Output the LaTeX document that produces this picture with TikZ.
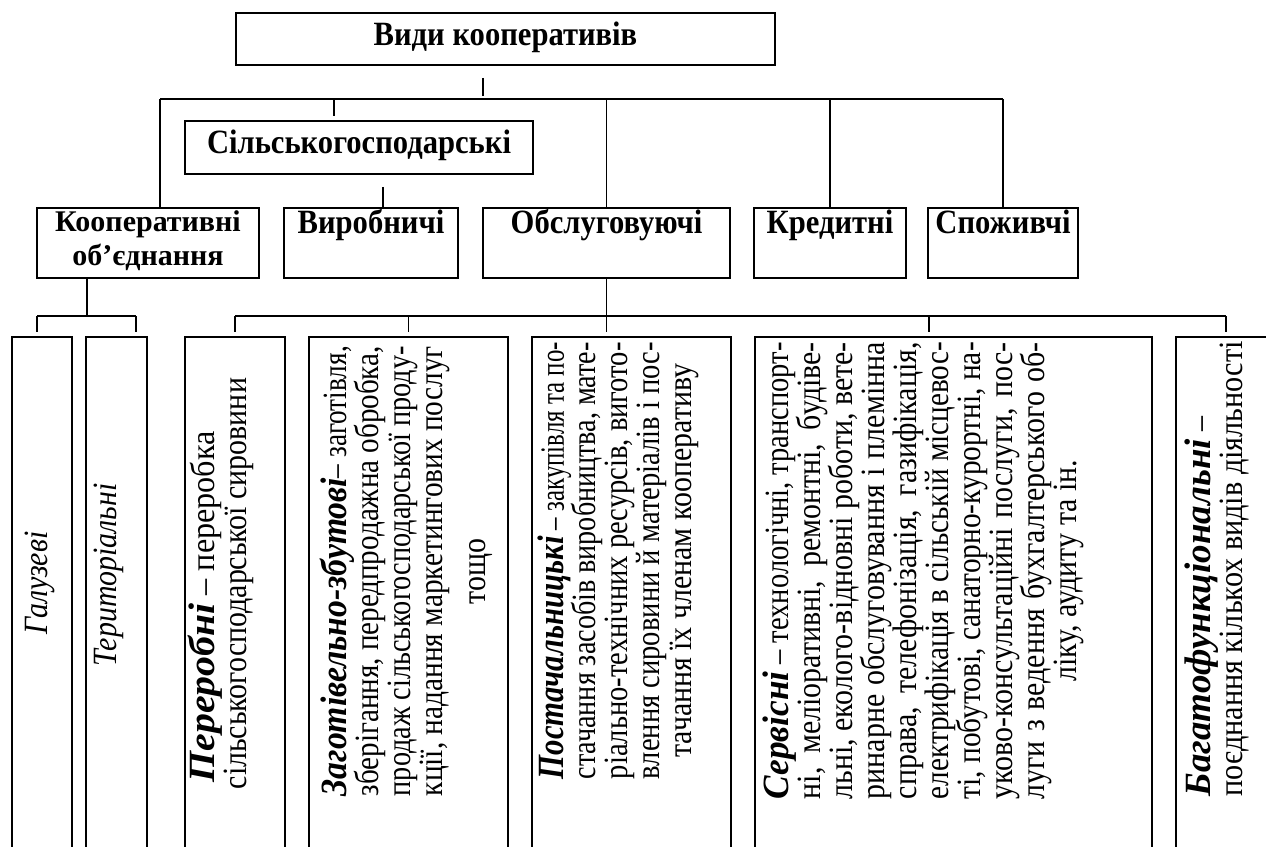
\documentclass[tikz,border=0pt]{standalone}
\usepackage{fontspec}
\usepackage{graphicx}
\setmainfont{Liberation Serif}
\newfontfamily\bodyff[FakeStretch=0.88]{Liberation Serif}
\newfontfamily\hdrff[FakeStretch=0.9]{Liberation Serif}
\newfontfamily\biff{Liberation Serif}
\usetikzlibrary{calc}
\newcommand\hdrfont{\hdrff\fontsize{34}{29}\selectfont\bfseries\lineskiplimit=-30pt\relax}
\newcommand\koopfont{\biff\fontsize{30}{34}\selectfont\bfseries}
\newcommand\bodyfont{\bodyff\fontsize{34}{32}\selectfont\lineskiplimit=-30pt\relax}
\newcommand\mystrut{\rule[-6pt]{0pt}{32pt}}
\newlength\natw
\newcommand\jusline[2][450pt]{\settowidth\natw{#2}%
  \ifdim\natw>#1\relax\resizebox{#1}{\height}{\mystrut#2}\else\makebox[#1][s]{\mystrut#2}\fi}
\newcommand\cenline[2][450pt]{\makebox[#1][c]{\mystrut #2}}
\newcommand\lefline[2][450pt]{\makebox[#1][l]{\mystrut #2}}
\newcommand\scaline[2]{\resizebox{#1}{\height}{\mystrut #2}}
\newcommand\bi[1]{{\biff\fontsize{37}{32}\selectfont\bfseries\itshape #1}}
\begin{document}
\begin{tikzpicture}[x=1pt,y=-1pt,line width=1.6pt,
  box/.style={draw, inner sep=0pt, line width=1.6pt},
  htext/.style={font=\hdrfont, inner sep=0pt, anchor=base},
  btext/.style={font=\bodyfont, inner sep=0pt, rotate=90, anchor=north west, align=left},
  itext/.style={font=\bodyfont\itshape, inner sep=0pt, rotate=90, anchor=base}]
\useasboundingbox (0,0) rectangle (1266,846);
\clip (0,0) rectangle (1266,846);
\fill[white] (0,0) rectangle (1266,846);

% boxes
\node[box, minimum width=539pt, minimum height=52pt] (top) at (505.5,39) {};
\node[box, minimum width=348pt, minimum height=53pt] (sil) at (359,147.5) {};
\node[box, minimum width=222pt, minimum height=70pt] (koop) at (148,243) {};
\node[box, minimum width=174pt, minimum height=70pt] (vyr) at (371,243) {};
\node[box, minimum width=247pt, minimum height=70pt] (obsl) at (606.5,243) {};
\node[box, minimum width=152pt, minimum height=70pt] (kred) at (830,243) {};
\node[box, minimum width=150pt, minimum height=70pt] (spoz) at (1003,243) {};

\node[box, minimum width=60pt, minimum height=543pt] (gal) at (42,608.5) {};
\node[box, minimum width=61pt, minimum height=543pt] (ter) at (116.5,608.5) {};
\node[box, minimum width=100pt, minimum height=543pt] (per) at (235,608.5) {};
\node[box, minimum width=199pt, minimum height=543pt] (zag) at (408.5,608.5) {};
\node[box, minimum width=199pt, minimum height=543pt] (post) at (631.5,608.5) {};
\node[box, minimum width=397pt, minimum height=543pt] (serv) at (953.5,608.5) {};
\node[box, minimum width=100pt, minimum height=543pt] (bag) at (1226,608.5) {};

% header texts
\node[htext] (top-t) at (505.5,45) {Види кооперативів};
\node[htext] (sil-t) at (359,153) {Сільськогосподарські};
\node[font=\koopfont, inner sep=0pt, anchor=north, align=center] (koop-t) at (148,209) {\rule{0pt}{22pt}Кооперативні\\об’єднання};
\node[htext] (vyr-t) at (371,233) {Виробничі};
\node[htext] (obsl-t) at (606.5,233) {Обслуговуючі};
\node[htext] (kred-t) at (830,233) {Кредитні};
\node[htext] (spoz-t) at (1003,233) {Споживчі};

% body texts (anchor x = first baseline - 26)
\node[itext] (gal-t) at (47,583) {Галузеві};
\node[itext] (ter-t) at (116,575) {Територіальні};
\node[btext] (per-t) at (187,790) {\makebox[420pt][l]{\hspace*{7pt}\scaline{351pt}{\bi{Переробні} – переробка}}\\
  \lefline[420pt]{сільськогосподарської сировини}};
\node[btext] (zag-t) at (319,797) {\jusline{\bi{Заготівельно-збутові}– заготівля,}\\
  \jusline{зберігання, передпродажна обробка,}\\
  \jusline{продаж сільськогосподарської проду-}\\
  \jusline{кції, надання маркетингових послуг}\\[11pt]
  \cenline{тощо}};
\node[btext] (post-t) at (537,780) {\jusline[437pt]{\bi{Постачальницькі} – закупівля та по-}\\
  \jusline[437pt]{стачання засобів виробництва, мате-}\\
  \jusline[437pt]{ріально-технічних ресурсів, вигото-}\\
  \jusline[437pt]{влення сировини й матеріалів і пос-}\\
  \cenline[437pt]{тачання їх членам кооперативу}};
\node[btext] (serv-t) at (762,800) {\jusline[457pt]{\bi{Сервісні} – технологічні, транспорт-}\\
  \jusline[457pt]{ні, меліоративні, ремонтні, будіве-}\\
  \jusline[457pt]{льні, еколого-відновні роботи, вете-}\\
  \jusline[457pt]{ринарне обслуговування і племінна}\\
  \jusline[457pt]{справа, телефонізація, газифікація,}\\
  \jusline[457pt]{електрифікація в сільській місцевос-}\\
  \jusline[457pt]{ті, побутові, санаторно-курортні, на-}\\
  \jusline[457pt]{уково-консультаційні послуги, пос-}\\
  \jusline[457pt]{луги з ведення бухгалтерського об-}\\
  \cenline[457pt]{ліку, аудиту та ін.}};
\node[btext] (bag-t) at (1184,797) {\lefline[455pt]{\bi{Багатофункціональні} –}\\
  \scaline{455pt}{поєднання кількох видів діяльності}};

% connectors level 1
\coordinate (j0) at (483,99);
\coordinate (hl) at (160,99);
\coordinate (js) at (334,99);
\coordinate (jv) at (383,186);
\draw (hl) -- (spoz.north |- hl);
\draw ($(top.south -| j0)+(0,12)$) -- ($(j0)+(0,-3)$);
\draw (hl) -- (koop.north -| hl);
\draw (js) -- ($(sil.north -| js)+(0,-4)$);
\draw (obsl.north |- hl) -- (obsl.north);
\draw (kred.north |- hl) -- (kred.north);
\draw (spoz.north |- hl) -- (spoz.north);
\draw ($(sil.south -| jv)+(0,12)$) -- (vyr.north -| jv);

% connectors level 2
\coordinate (k2) at (87,316);
\coordinate (kgl) at (37,316);
\coordinate (kgr) at (136,316);
\draw (koop.south -| k2) -- (k2);
\draw (kgl) -- (kgr);
\draw (kgl) -- ($(kgl |- gal.north)+(0,-4)$);
\draw (kgr) -- ($(kgr |- ter.north)+(0,-4)$);

\coordinate (ohl) at (235,316);
\coordinate (sv) at (929,316);
\draw (ohl) -- (bag.north |- ohl);
\draw (obsl.south) -- ($(obsl.south |- post.north)+(0,-4)$);
\draw (ohl) -- ($(per.north)+(0,-4)$);
\draw (zag.north |- ohl) -- ($(zag.north)+(0,-4)$);
\draw (sv) -- ($(sv |- serv.north)+(0,-4)$);
\draw (bag.north |- ohl) -- ($(bag.north)+(0,-4)$);
\end{tikzpicture}
\end{document}
